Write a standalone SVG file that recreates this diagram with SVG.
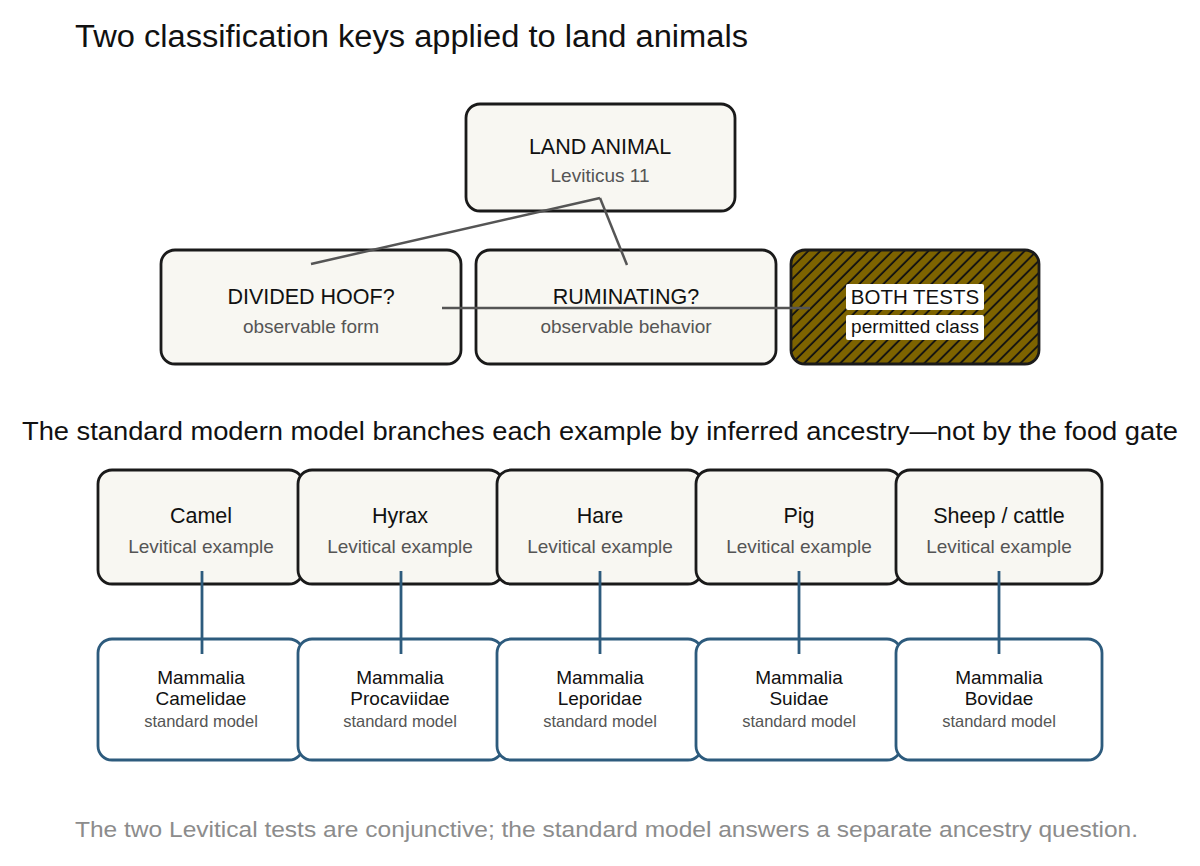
<svg xmlns="http://www.w3.org/2000/svg" width="1200" height="866" viewBox="0 0 1200 866">
<defs>
<pattern id="hatch" patternUnits="userSpaceOnUse" width="8.5" height="8.5" patternTransform="rotate(45)">
<rect width="8.5" height="8.5" fill="#7d6300"/>
<line x1="1" y1="0" x2="1" y2="8.5" stroke="#111" stroke-width="1.8"/>
</pattern>
<style>
text{font-family:"Liberation Sans",Arial,sans-serif}
.box{fill:#f8f7f2;stroke:#1a1a1a;stroke-width:2.8}
.hbox{fill:url(#hatch);stroke:#1a1a1a;stroke-width:2.8}
.bbox{fill:#ffffff;stroke:#2d5b7d;stroke-width:2.8}
.t1{font-size:21.5px;fill:#111;text-anchor:middle}
.t2{font-size:19px;fill:#555;text-anchor:middle}
.t3{font-size:19px;fill:#111;text-anchor:middle}
.t4{font-size:16.5px;fill:#555;text-anchor:middle}
.conn{stroke:#555;stroke-width:2.5;fill:none}
.vconn{stroke:#2d5b7d;stroke-width:2.8;fill:none}
</style>
</defs>
<rect width="1200" height="866" fill="#ffffff"/>
<text x="75" y="47" font-size="31" fill="#111" textLength="673" lengthAdjust="spacingAndGlyphs">Two classification keys applied to land animals</text>

<g id="land-animal">
<rect class="box" x="466" y="104" width="269" height="107" rx="14"/>
<text class="t1" x="600" y="154">LAND ANIMAL</text>
<text class="t2" x="600" y="182">Leviticus 11</text>
</g>
<g id="divided-hoof">
<rect class="box" x="161" y="250" width="300" height="114" rx="14"/>
<text class="t1" x="311" y="304">DIVIDED HOOF?</text>
<text class="t2" x="311" y="333">observable form</text>
</g>
<g id="ruminating">
<rect class="box" x="476" y="250" width="300" height="114" rx="14"/>
<text class="t1" x="626" y="304">RUMINATING?</text>
<text class="t2" x="626" y="333">observable behavior</text>
</g>
<g id="both-tests">
<rect class="hbox" x="791" y="250" width="248" height="114" rx="14"/>
<rect x="846" y="284" width="138" height="26" rx="2" fill="#fff"/>
<rect x="846" y="315" width="138" height="25" rx="2" fill="#fff"/>
<text class="t1" x="915" y="304" style="font-size:20.5px">BOTH TESTS</text>
<text class="t3" x="915" y="333">permitted class</text>
</g>

<text x="22" y="440" font-size="26.5" fill="#111" textLength="1156" lengthAdjust="spacingAndGlyphs">The standard modern model branches each example by inferred ancestry—not by the food gate</text>

<g id="camel">
<rect class="box" x="98" y="470" width="205" height="114" rx="14"/>
<text class="t1" x="201" y="523">Camel</text>
<text class="t2" x="201" y="553">Levitical example</text>
</g>
<g id="hyrax">
<rect class="box" x="298" y="470" width="205" height="114" rx="14"/>
<text class="t1" x="400" y="523">Hyrax</text>
<text class="t2" x="400" y="553">Levitical example</text>
</g>
<g id="hare">
<rect class="box" x="497" y="470" width="205" height="114" rx="14"/>
<text class="t1" x="600" y="523">Hare</text>
<text class="t2" x="600" y="553">Levitical example</text>
</g>
<g id="pig">
<rect class="box" x="696" y="470" width="205" height="114" rx="14"/>
<text class="t1" x="799" y="523">Pig</text>
<text class="t2" x="799" y="553">Levitical example</text>
</g>
<g id="sheep-cattle">
<rect class="box" x="896" y="470" width="206" height="114" rx="14"/>
<text class="t1" x="999" y="523">Sheep / cattle</text>
<text class="t2" x="999" y="553">Levitical example</text>
</g>

<g id="camelidae">
<rect class="bbox" x="98" y="639" width="205" height="121" rx="14"/>
<text class="t3" x="201" y="684">Mammalia</text>
<text class="t3" x="201" y="705">Camelidae</text>
<text class="t4" x="201" y="727">standard model</text>
</g>
<g id="procaviidae">
<rect class="bbox" x="298" y="639" width="205" height="121" rx="14"/>
<text class="t3" x="400" y="684">Mammalia</text>
<text class="t3" x="400" y="705">Procaviidae</text>
<text class="t4" x="400" y="727">standard model</text>
</g>
<g id="leporidae">
<rect class="bbox" x="497" y="639" width="205" height="121" rx="14"/>
<text class="t3" x="600" y="684">Mammalia</text>
<text class="t3" x="600" y="705">Leporidae</text>
<text class="t4" x="600" y="727">standard model</text>
</g>
<g id="suidae">
<rect class="bbox" x="696" y="639" width="205" height="121" rx="14"/>
<text class="t3" x="799" y="684">Mammalia</text>
<text class="t3" x="799" y="705">Suidae</text>
<text class="t4" x="799" y="727">standard model</text>
</g>
<g id="bovidae">
<rect class="bbox" x="896" y="639" width="206" height="121" rx="14"/>
<text class="t3" x="999" y="684">Mammalia</text>
<text class="t3" x="999" y="705">Bovidae</text>
<text class="t4" x="999" y="727">standard model</text>
</g>

<g id="connectors">
<line class="conn" x1="600" y1="198" x2="311" y2="264"/>
<line class="conn" x1="600" y1="198" x2="627" y2="265"/>
<line class="conn" x1="442" y1="308" x2="810" y2="308"/>
<line class="vconn" x1="202" y1="571" x2="202" y2="654"/>
<line class="vconn" x1="401" y1="571" x2="401" y2="654"/>
<line class="vconn" x1="600" y1="571" x2="600" y2="654"/>
<line class="vconn" x1="799" y1="571" x2="799" y2="654"/>
<line class="vconn" x1="999" y1="571" x2="999" y2="654"/>
</g>

<text x="75" y="837" font-size="22.5" fill="#8c8c8c" textLength="1063" lengthAdjust="spacingAndGlyphs">The two Levitical tests are conjunctive; the standard model answers a separate ancestry question.</text>
</svg>
